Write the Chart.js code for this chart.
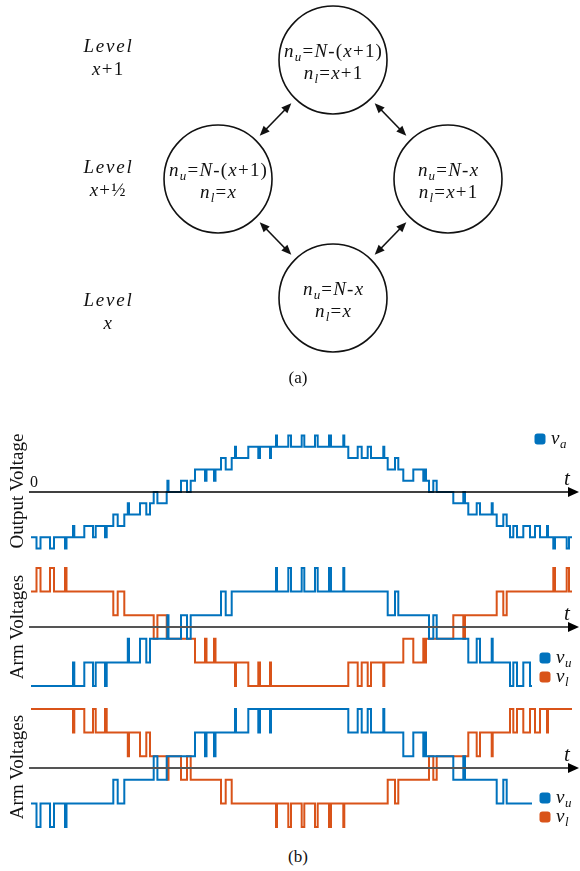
<!DOCTYPE html>
<html><head><meta charset="utf-8">
<script src="https://cdn.jsdelivr.net/npm/chart.js@4.4.1/dist/chart.umd.min.js"></script>
<style>
html,body{margin:0;padding:0;background:#fff;}
#wrap{position:relative;width:580px;height:871px;overflow:hidden;background:#fff;font-family:'Liberation Serif','DejaVu Serif',serif;color:#111;}
canvas{position:absolute;left:0;}
.cap{position:absolute;left:0;width:596px;text-align:center;font-size:17px;line-height:20px;}
.yt{position:absolute;width:160px;height:24px;line-height:24px;text-align:center;font-size:19px;white-space:nowrap;transform:rotate(-90deg);transform-origin:50% 50%;}
.pre{position:absolute;left:-999px;top:0;font-family:'Liberation Serif';font-style:italic;}
</style></head>
<body>
<div id="wrap">
  <span class="pre">Level nu</span>
  <canvas id="diag" width="580" height="400" style="top:0"></canvas>
  <div class="cap" style="top:368px">(a)</div>
  <canvas id="outp" width="580" height="135" style="top:425px"></canvas>
  <canvas id="arm1" width="580" height="135" style="top:560px"></canvas>
  <canvas id="arm2" width="580" height="135" style="top:701px"></canvas>
  <div class="yt" style="left:-63px;top:479px">Output Voltage</div>
  <div class="yt" style="left:-63px;top:615px">Arm Voltages</div>
  <div class="yt" style="left:-63px;top:755px">Arm Voltages</div>
  <div class="cap" style="top:847px">(b)</div>
</div>
<script>
// ---------- DATA ----------
// (a) state diagram: column, level, and inserted-submodule labels of each state
const nodeCol   = [0, -1, 1, 0];
const nodeLevel = [1, 0.5, 0.5, 0];
const nodeUpper = ['N-(x+1)', 'N-(x+1)', 'N-x', 'N-x'];
const nodeLower = ['x+1', 'x', 'x+1', 'x'];
const edges     = [[0,1],[0,2],[1,3],[2,3]];
const levelNames = ['x+1', 'x+½', 'x'];
const levelRows  = [1.01, 0.5, -0.06];
const levelCol   = -1.96;

// (b) waveforms: [time, level] step points
const vaSteps = [[31,-4],[36.5,-5],[40.5,-4],[50,-5],[54,-4],[65,-5],[66.5,-4],[73,-3],[74.3,-4],[84.3,-3],[93,-4],[95.7,-3],[105,-4],[106.7,-3],
 [113.3,-2],[117.7,-3],[124.3,-2],[127.8,-1],[129,-2],[140,-1],[146.3,-2],[150,-1],[153.7,0],[157.4,-1],[166.7,0],[167.4,1],[168.5,0],[181,1],[187,0],[190.7,1],
 [195,2],[205,1],[206.5,2],[214,1],[215.5,2],[221,3],[225.7,2],[231.7,3],[235,4],[236,3],[248.3,4],[258.3,3],[260,4],[270,3],[271,4],
 [276,5],[277,4],[288.3,5],[291,4],[301.7,5],[304.3,4],[315,5],[317.7,4],[329,5],[331,4],[343.3,5],[344.3,4],
 [348.3,3],[357.7,4],[361.7,3],[367.7,4],[371,3],[383.3,4],[384.3,3],[387.7,2],[395,3],[398.3,2],[403.3,1],[413.3,2],[423.3,1],[425,2],[426,1],
 [429,0],[433.3,1],[436.7,0],[453.3,-1],[463.3,0],[465,-1],[468.3,-2],[476.7,-1],[480,-2],[491.7,-1],[492.7,-2],[496.7,-3],[503.3,-2],[506.7,-3],
 [510,-4],[513.3,-3],[517,-4],[523.3,-3],[530,-4],[535,-3],[540,-4],[547,-3],[548,-4],[553.3,-5],[555,-4],[566.7,-5],[569,-4],[572,-4]];

const vl1Steps = [[31,4],[36.5,5],[40.5,4],[50,5],[54,4],[65,5],[66.5,4],[113.3,3],[117.7,4],[124.3,3],[153.7,2],[157.4,3],[166.7,2],
 [195,1],[205,2],[206.5,1],[214,2],[215.5,1],[235,0],[236,1],[248.3,0],[258.3,1],[260,0],[270,1],[271,0],
 [348.3,1],[357.7,0],[361.7,1],[367.7,0],[371,1],[383.3,0],[384.3,1],[403.3,2],[413.3,1],[423.3,2],[425,1],[426,2],
 [453.3,3],[463.3,2],[465,3],[496.7,4],[503.3,3],[506.7,4],[553.3,5],[555,4],[566.7,5],[569,4],[572,4]];

const vu1Steps = [[31,0],[73,1],[74.3,0],[84.3,1],[93,0],[95.7,1],[105,0],[106.7,1],[127.8,2],[129,1],[140,2],[146.3,1],[150,2],
 [167.4,3],[168.5,2],[181,3],[187,2],[190.7,3],[221,4],[225.7,3],[231.7,4],
 [276,5],[277,4],[288.3,5],[291,4],[301.7,5],[304.3,4],[315,5],[317.7,4],[329,5],[331,4],[343.3,5],[344.3,4],
 [387.7,3],[395,4],[398.3,3],[429,2],[433.3,3],[436.7,2],[468.3,1],[476.7,2],[480,1],[491.7,2],[492.7,1],
 [510,0],[513.3,1],[517,0],[523.3,1],[530,0],[532,0]];

const vu2Steps = [[31,1],[36.5,0],[40.5,1],[50,0],[54,1],[65,0],[66.5,1],[113.3,2],[117.7,1],[124.3,2],[153.7,3],[157.4,2],[166.7,3],
 [195,4],[205,3],[206.5,4],[214,3],[215.5,4],[235,5],[236,4],[248.3,5],[258.3,4],[260,5],[270,4],[271,5],
 [348.3,4],[357.7,5],[361.7,4],[367.7,5],[371,4],[383.3,5],[384.3,4],[403.3,3],[413.3,4],[423.3,3],[425,4],[426,3],
 [453.3,2],[463.3,3],[465,2],[496.7,1],[503.3,2],[506.7,1],[532,1]];

const vl2Steps = [[31,5],[73,4],[74.3,5],[84.3,4],[93,5],[95.7,4],[105,5],[106.7,4],[127.8,3],[129,4],[140,3],[146.3,4],[150,3],
 [167.4,2],[168.5,3],[181,2],[187,3],[190.7,2],[221,1],[225.7,2],[231.7,1],
 [276,0],[277,1],[288.3,0],[291,1],[301.7,0],[304.3,1],[315,0],[317.7,1],[329,0],[331,1],[343.3,0],[344.3,1],
 [387.7,2],[395,1],[398.3,2],[429,3],[433.3,2],[436.7,3],[468.3,4],[476.7,3],[480,4],[491.7,3],[492.7,4],
 [510,5],[513.3,4],[517,5],[523.3,4],[530,5],[535,4],[540,5],[547,4],[548,5],[572,5]];

const timeAxis = [29, 579];     // time-axis extent
const armAxisLevel = 2.5;

// ---------- STYLE / HELPERS ----------
const FONT = "'Liberation Serif', serif";
const BLUE = '#0072BD', ORANGE = '#D95319';

function tok(str){ return Array.from(str).map(c => ({s:c, it:/[A-Za-z]/.test(c)})); }
function drawRich(ctx, parts, cx, base, size, sp, align){
  let w = 0;
  const items = [];
  parts.forEach(p => {
    const fs = Math.round(p.sub ? size*0.7 : size);
    const f = (p.it ? 'italic ' : 'normal ') + fs + 'px ' + FONT;
    ctx.font = f;
    for (const ch of p.s){
      const cw = ctx.measureText(ch).width;
      items.push({ch, f, cw, dy: p.sub ? size*0.22 : 0});
      w += cw + sp;
    }
  });
  w -= sp;
  let x = align === 'left' ? cx : cx - w/2;
  ctx.textAlign = 'left'; ctx.textBaseline = 'alphabetic';
  items.forEach(it => { ctx.font = it.f; ctx.fillText(it.ch, x, base + it.dy); x += it.cw + sp; });
}
function head(ctx, x, y, ux, uy){
  const len = 10, hw = 4.2;
  const bx = x - ux*len, by = y - uy*len;
  ctx.beginPath(); ctx.moveTo(x, y);
  ctx.lineTo(bx - uy*hw, by + ux*hw); ctx.lineTo(bx + uy*hw, by - ux*hw);
  ctx.closePath(); ctx.fill();
}

// ---------- (a) DIAGRAM ----------
const R = 54;
const diagPlugin = {
  id: 'diagDeco',
  afterDatasetsDraw(chart){
    const ctx = chart.ctx, xs = chart.scales.x, ys = chart.scales.y;
    ctx.save();
    ctx.fillStyle = '#111'; ctx.strokeStyle = '#111'; ctx.lineWidth = 1.6;
    edges.forEach(([a,b]) => {
      const x1 = xs.getPixelForValue(nodeCol[a]), y1 = ys.getPixelForValue(nodeLevel[a]);
      const x2 = xs.getPixelForValue(nodeCol[b]), y2 = ys.getPixelForValue(nodeLevel[b]);
      const dx = x2-x1, dy = y2-y1, L = Math.hypot(dx, dy), ux = dx/L, uy = dy/L;
      const g = R + 6;
      const sx = x1 + ux*g, sy = y1 + uy*g, ex = x2 - ux*g, ey = y2 - uy*g;
      ctx.beginPath(); ctx.moveTo(sx + ux*6, sy + uy*6); ctx.lineTo(ex - ux*6, ey - uy*6); ctx.stroke();
      head(ctx, sx, sy, -ux, -uy); head(ctx, ex, ey, ux, uy);
    });
    nodeCol.forEach((c, i) => {
      const cx = xs.getPixelForValue(c), cy = ys.getPixelForValue(nodeLevel[i]);
      drawRich(ctx, [{s:'n',it:true},{s:'u',it:true,sub:true},{s:'=',it:false}].concat(tok(nodeUpper[i])), cx, cy - 3, 19, 1.2);
      drawRich(ctx, [{s:'n',it:true},{s:'l',it:true,sub:true},{s:'=',it:false}].concat(tok(nodeLower[i])), cx, cy + 19, 19, 1.2);
    });
    levelRows.forEach((lv, i) => {
      const cx = xs.getPixelForValue(levelCol), cy = ys.getPixelForValue(lv);
      drawRich(ctx, tok('Level'), cx, cy - 6, 19, 1.8);
      drawRich(ctx, tok(levelNames[i]), cx, cy + 17, 19, 1.2);
    });
    ctx.restore();
  }
};

// ---------- (b) WAVEFORM PANELS ----------
function ds(steps, color){
  return { data: steps.map(([t, v]) => ({x: t, y: v})), borderColor: color, borderWidth: 2,
    stepped: true, pointRadius: 0, fill: false, tension: 0, borderJoinStyle: 'miter', borderCapStyle: 'butt' };
}
function makeDeco(cfg){
  return {
    id: 'deco',
    afterDatasetsDraw(chart){
      const ctx = chart.ctx, xs = chart.scales.x, ys = chart.scales.y;
      const y0 = ys.getPixelForValue(cfg.axisLevel);
      const xa = xs.getPixelForValue(timeAxis[0]), xb = xs.getPixelForValue(timeAxis[1]);
      ctx.save();
      ctx.strokeStyle = cfg.axisColor; ctx.lineWidth = cfg.axisWidth;
      ctx.beginPath(); ctx.moveTo(xa, y0); ctx.lineTo(xb - 8, y0); ctx.stroke();
      ctx.fillStyle = '#000';
      ctx.beginPath(); ctx.moveTo(xb, y0); ctx.lineTo(xb - 11, y0 - 5); ctx.lineTo(xb - 11, y0 + 5); ctx.closePath(); ctx.fill();
      ctx.fillStyle = '#111';
      drawRich(ctx, [{s:'t', it:true}], 567, y0 - 7, 21, 0);
      if (cfg.zero){ ctx.font = 'normal 16px ' + FONT; ctx.textAlign = 'left'; ctx.fillText('0', 30, y0 - 5); }
      cfg.legend.forEach(l => {
        ctx.fillStyle = l.color;
        ctx.beginPath(); ctx.roundRect(l.x - 5.5, l.y - 5.5, 11, 11, 3); ctx.fill();
        ctx.fillStyle = '#111';
        drawRich(ctx, [{s:'v', it:true}, {s:l.sub, it:true, sub:true}], l.x + 11, l.y + 5, 19, 0.5, 'left');
      });
      ctx.restore();
    }
  };
}
function panel(id, datasets, yMin, yMax, deco){
  new Chart(document.getElementById(id), {
    type: 'line',
    data: { datasets },
    options: {
      responsive: false, animation: false, events: [],
      layout: {padding: 0, autoPadding: false},
      plugins: {legend: {display: false}, tooltip: {enabled: false}},
      scales: {
        x: {type: 'linear', min: 0, max: 580, display: false},
        y: {type: 'linear', min: yMin, max: yMax, display: false}
      }
    },
    plugins: [makeDeco(deco)]
  });
}

function build(){
  new Chart(document.getElementById('diag'), {
    type: 'scatter',
    data: { datasets: [{
      data: nodeCol.map((c, i) => ({x: c, y: nodeLevel[i]})),
      pointRadius: R, pointHoverRadius: R,
      pointBackgroundColor: '#fff', pointBorderColor: '#111', pointBorderWidth: 1.6,
      clip: false
    }]},
    options: {
      responsive: false, animation: false, events: [],
      layout: {padding: 0, autoPadding: false},
      plugins: {legend: {display: false}, tooltip: {enabled: false}},
      scales: {
        x: {type: 'linear', min: -2.896, max: 2.148, display: false},
        y: {type: 'linear', min: -0.4286, max: 1.2521, display: false}
      }
    },
    plugins: [diagPlugin]
  });
  panel('outp', [ds(vaSteps, BLUE)], -6.018, 5.929,
    {axisLevel: 0, axisColor: '#000', axisWidth: 1.3, zero: true, legend: [{color: BLUE, sub: 'a', x: 540, y: 14}]});
  panel('arm1', [ds(vu1Steps, BLUE), ds(vl1Steps, ORANGE)], -0.381, 5.339,
    {axisLevel: armAxisLevel, axisColor: '#555', axisWidth: 1.8, zero: false,
     legend: [{color: BLUE, sub: 'u', x: 545, y: 98}, {color: ORANGE, sub: 'l', x: 545, y: 117}]});
  panel('arm2', [ds(vu2Steps, BLUE), ds(vl2Steps, ORANGE)], -0.381, 5.339,
    {axisLevel: armAxisLevel, axisColor: '#555', axisWidth: 1.8, zero: false,
     legend: [{color: BLUE, sub: 'u', x: 545, y: 97}, {color: ORANGE, sub: 'l', x: 545, y: 116}]});
}
let built = false;
function go(){ if (!built){ built = true; build(); } }
if (document.fonts && document.fonts.load){
  Promise.all([
    document.fonts.load("italic 19px 'Liberation Serif'"),
    document.fonts.load("normal 19px 'Liberation Serif'")
  ]).then(go, go);
  setTimeout(go, 300);
} else { go(); }
</script>
</body></html>
